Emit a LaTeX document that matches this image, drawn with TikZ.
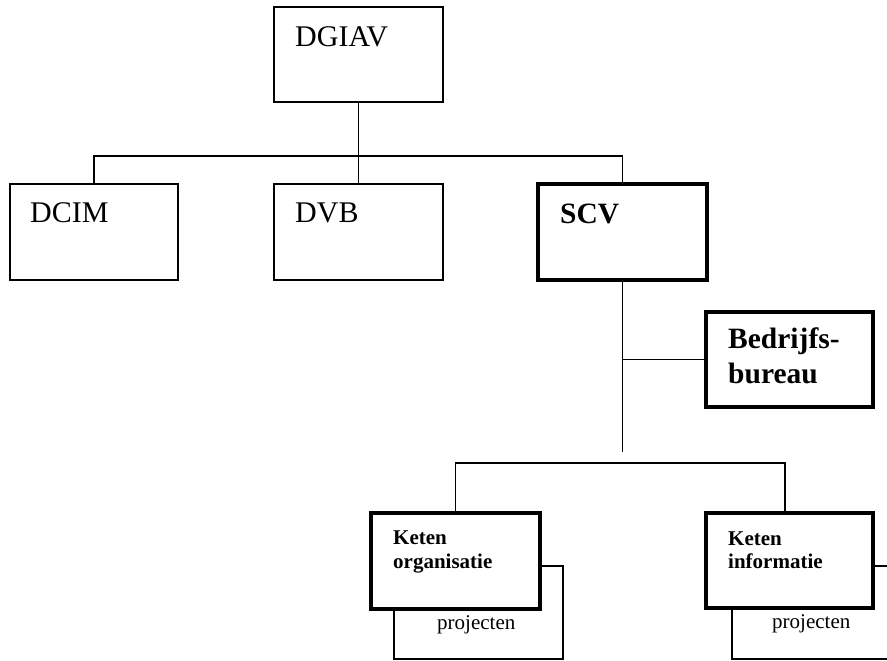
\documentclass[tikz,border=0pt]{standalone}
\usepackage{fontspec}
\setmainfont{Liberation Serif}
\begin{document}
\begin{tikzpicture}[x=1pt,y=-1pt,
  box/.style={draw=black,line width=1.6pt,fill=white,rectangle,inner sep=0pt},
  thickbox/.style={box,line width=3.4pt},
  backbox/.style={draw=black,line width=1.6pt,rectangle,inner sep=0pt},
  conn/.style={draw=black,line width=1.6pt},
  big/.style={anchor=base west,inner sep=0pt,font=\fontsize{30}{34}\selectfont},
  bigb/.style={big,font=\fontsize{29.5}{34}\selectfont\bfseries},
  small/.style={anchor=base west,inner sep=0pt,font=\fontsize{21}{24}\selectfont\bfseries},
  smallr/.style={anchor=base west,inner sep=0pt,font=\fontsize{21}{24}\selectfont}]
\useasboundingbox (0,0) rectangle (887,661);
\clip (0,0) rectangle (887,661);
% top level
\node[box,minimum width=169,minimum height=95] (dgiav) at (358.5,54.5) {};
\node[big] (tdgiav) at (295,47) {DGIAV};
% second level
\node[box,minimum width=168,minimum height=96] (dcim) at (94,232) {};
\node[big] (tdcim) at (30,222) {DCIM};
\node[box,minimum width=169,minimum height=96] (dvb) at (358.5,232) {};
\node[big] (tdvb) at (295,222) {DVB};
\node[thickbox,minimum width=169,minimum height=96] (scv) at (622.5,232) {};
\node[bigb] (tscv) at (560,223) {SCV};
\coordinate (bar) at (0,156);
\draw[conn] (dgiav.south) -- (dvb.north);
\draw[conn] (dcim.north) -- (dcim.north |- bar) -- (scv.north |- bar) -- (scv.north);
% staff
\node[thickbox,minimum width=167,minimum height=95] (bb) at (789.5,359.5) {};
\node[bigb] (tbb1) at (728,348) {Bedrijfs-};
\node[bigb] (tbb2) at (728,383) {bureau};
\coordinate (low) at (0,452);
\draw[conn] (scv.south) -- (scv.south |- low);
\draw[conn] (scv.south |- bb.west) -- (bb.west);
% bottom level
\node[backbox,minimum width=169,minimum height=93] (kob) at (478.5,612.5) {};
\node[thickbox,minimum width=169,minimum height=96] (ko) at (455.5,561) {};
\node[small] (tko1) at (393,544) {Keten};
\node[small] (tko2) at (393,568) {organisatie};
\node[smallr] (tkop) at (437,629) {projecten};
\node[backbox,minimum width=169,minimum height=93] (kib) at (816.5,612.5) {};
\node[thickbox,minimum width=167,minimum height=95] (ki) at (789.5,560.5) {};
\node[small] (tki1) at (728,545) {Keten};
\node[small] (tki2) at (728,568) {informatie};
\node[smallr] (tkip) at (772,628) {projecten};
\coordinate (bar2) at (0,463);
\coordinate (kitop) at (785,513);
\draw[conn] (ko.north) -- (ko.north |- bar2) -- (kitop |- bar2) -- (kitop);
\end{tikzpicture}
\end{document}
